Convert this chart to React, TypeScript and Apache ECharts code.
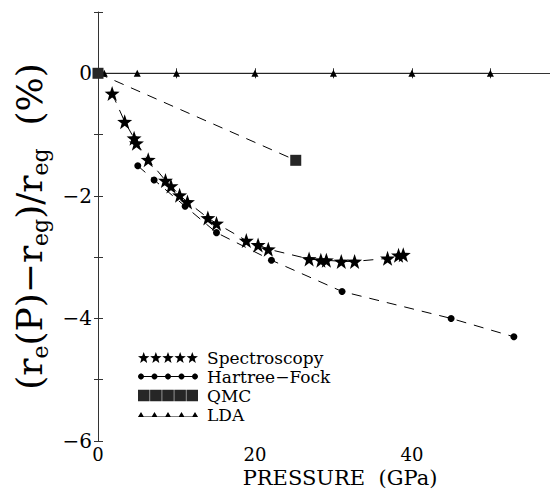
import React, { useEffect, useRef } from "react";
import * as echarts from "echarts";

// ---- data ----
const spectroscopyP = [1.8, 3.4, 4.6, 4.9, 6.4, 8.6, 9.3, 10.4, 11.4, 14.0, 15.1, 18.9, 20.4, 21.7, 26.9, 28.4, 29.1, 31.0, 32.7, 36.9, 38.3, 38.9];
const spectroscopyV = [-0.33, -0.79, -1.06, -1.14, -1.41, -1.75, -1.84, -1.99, -2.1, -2.36, -2.45, -2.73, -2.8, -2.87, -3.03, -3.05, -3.05, -3.07, -3.07, -3.02, -2.97, -2.96];
const hartreeFockP = [5.07, 7.15, 11.1, 15.1, 22.1, 31.1, 45.0, 53.0];
const hartreeFockV = [-1.51, -1.74, -2.17, -2.6, -3.05, -3.56, -4.0, -4.3];
const qmcP = [0, 25.2];
const qmcV = [0, -1.42];
const ldaP = [0, 0.8, 5, 10, 20, 30, 40, 50];
const ldaV = [0, 0, 0, 0, 0, 0, 0, 0];
const seriesNames = ["Spectroscopy", "Hartree\u2212Fock", "QMC", "LDA"];
const xLabelValues = [0, 20, 40];
const yLabelValues = [-6, -4, -2, 0];

const FONT = "DejaVu Serif";

function starPts(cx: number, cy: number, R: number, r: number): string {
  let s = "";
  for (let i = 0; i < 10; i++) {
    const rad = i % 2 === 0 ? R : r;
    const a = -Math.PI / 2 + (i * Math.PI) / 5;
    const x = cx + rad * Math.cos(a);
    const y = cy + rad * Math.sin(a);
    s += (i === 0 ? "M" : "L") + x.toFixed(2) + " " + y.toFixed(2) + " ";
  }
  return s + "Z ";
}
function polyCircle(cx: number, cy: number, r: number): string {
  let s = "";
  for (let i = 0; i < 14; i++) {
    const a = (i * 2 * Math.PI) / 14;
    s += (i === 0 ? "M" : "L") + (cx + r * Math.cos(a)).toFixed(2) + " " + (cy + r * Math.sin(a)).toFixed(2) + " ";
  }
  return s + "Z ";
}
const STAR = "path://" + starPts(0, 0, 10, 4);

function legendStars(): string {
  let s = "";
  const R = 6;
  const w = R * Math.sin((72 * Math.PI) / 180);
  for (let i = 0; i < 5; i++) s += starPts(w + i * ((60 - 2 * w) / 4), 6, R, 2.5);
  return "path://" + s;
}
function legendDots(): string {
  let s = "M3 2.6 L57 2.6 L57 3.4 L3 3.4 Z ";
  for (let i = 0; i < 5; i++) s += polyCircle(3 + i * 13.5, 3, 3);
  return "path://" + s;
}
function legendSquares(): string {
  let s = "";
  for (let i = 0; i < 5; i++) {
    const x = i * 12.1;
    s += `M${x} 0 L${x + 11.6} 0 L${x + 11.6} 11.6 L${x} 11.6 Z `;
  }
  return "path://" + s;
}
function legendTriangles(): string {
  let s = "M0 4.4 L60 4.4 L60 5 L0 5 Z ";
  for (let i = 0; i < 5; i++) {
    const cx = 3 + i * 13.5;
    s += `M${cx - 3} 5 L${cx} 0 L${cx + 3} 5 Z `;
  }
  return "path://" + s;
}

const zip = (a: number[], b: number[]) => a.map((v, i) => [v, b[i]]);

export default function App() {
  const ref = useRef<HTMLDivElement>(null);
  useEffect(() => {
    if (!ref.current) return;
    const chart = echarts.init(ref.current, undefined, { renderer: "svg" });
    const axisCol = "#333";
    const fmtY = (v: number) => (yLabelValues.indexOf(v) >= 0 ? (v < 0 ? "\u2212" + Math.abs(v) : String(v)) : "");
    const fmtX = (v: number) => (xLabelValues.indexOf(v) >= 0 ? String(v) : "");
    chart.setOption({
      animation: false,
      backgroundColor: "#fff",
      textStyle: { fontFamily: FONT, color: "#000" },
      grid: { left: 98, top: 12, right: 0, bottom: 50, containLabel: false, outerBoundsMode: "none" },
      xAxis: [
        {
          type: "value",
          min: 0,
          max: 57.6,
          interval: 10,
          position: "bottom",
          name: "PRESSURE  (GPa)",
          nameLocation: "middle",
          nameGap: 26,
          nameMoveOverlap: false,
          nameTextStyle: { fontSize: 21, lineHeight: 21, fontFamily: FONT, color: "#000", padding: [0, 0, 0, 32] },
          axisLine: { show: true, lineStyle: { color: axisCol, width: 1 } },
          axisTick: { show: true, inside: true, length: 5, lineStyle: { color: axisCol } },
          axisLabel: { formatter: fmtX, fontSize: 18, lineHeight: 18, color: "#000", margin: 4, fontFamily: FONT, showMaxLabel: false },
          splitLine: { show: false },
        },
        {
          type: "value",
          min: 0,
          max: 57.6,
          interval: 10,
          position: "top",
          axisLine: { show: true, lineStyle: { color: axisCol, width: 1 } },
          axisTick: { show: true, inside: true, length: 5, lineStyle: { color: axisCol } },
          axisLabel: { show: false },
          splitLine: { show: false },
        },
      ],
      yAxis: [
        {
          type: "value",
          min: -6,
          max: 1,
          interval: 1,
          position: "left",
          name: "(r{s|e}(P)\u2212r{s|eg})/r{s|eg}  (%)",
          nameLocation: "middle",
          nameRotate: 90,
          nameGap: 47,
          nameMoveOverlap: false,
          nameTextStyle: {
            fontSize: 36,
            lineHeight: 44,
            fontFamily: FONT,
            color: "#000",
            rich: {
              s: { fontSize: 22, lineHeight: 22, verticalAlign: "bottom", fontFamily: FONT, color: "#000" },
            },
          },
          axisLine: { show: true, lineStyle: { color: axisCol, width: 1 } },
          axisTick: { show: true, inside: true, length: 5, lineStyle: { color: axisCol } },
          axisLabel: { formatter: fmtY, fontSize: 20, color: "#000", margin: 6, fontFamily: FONT },
          splitLine: { show: false },
        },
        {
          type: "value",
          min: -6,
          max: 1,
          interval: 1,
          position: "right",
          axisLine: { show: false },
          axisTick: { show: true, inside: true, length: 4, lineStyle: { color: axisCol } },
          axisLabel: { show: false },
          splitLine: { show: false },
        },
      ],
      legend: {
        orient: "vertical",
        left: 138,
        top: 348,
        padding: 0,
        itemWidth: 60,
        itemHeight: 12,
        itemGap: 0,
        itemStyle: { borderWidth: 0 },
        textStyle: { fontSize: 17, lineHeight: 19, fontFamily: FONT, color: "#000", padding: [0, 0, 0, 4] },
        data: [
          { name: seriesNames[0], icon: legendStars() },
          { name: seriesNames[1], icon: legendDots() },
          { name: seriesNames[2], icon: legendSquares() },
          { name: seriesNames[3], icon: legendTriangles() },
        ],
      },
      series: [
        {
          name: seriesNames[3],
          type: "line",
          data: zip(ldaP, ldaV),
          symbol: "triangle",
          symbolSize: 7,
          itemStyle: { color: "#000", borderWidth: 0 },
          lineStyle: { color: "#222", width: 1 },
          z: 2,
        },
        {
          name: seriesNames[0],
          type: "line",
          data: zip(spectroscopyP, spectroscopyV),
          symbol: STAR,
          symbolSize: 15,
          itemStyle: { color: "#000", borderWidth: 0 },
          lineStyle: { color: "#000", width: 1, type: [10, 8] },
          z: 3,
        },
        {
          name: seriesNames[1],
          type: "line",
          data: zip(hartreeFockP, hartreeFockV),
          symbol: "circle",
          symbolSize: 7,
          itemStyle: { color: "#000", borderWidth: 0 },
          lineStyle: { color: "#000", width: 1, type: [10, 8] },
          z: 3,
        },
        {
          name: seriesNames[2],
          type: "line",
          data: zip(qmcP, qmcV),
          symbol: "rect",
          symbolSize: 11,
          itemStyle: { color: "#262626", borderWidth: 0 },
          lineStyle: { color: "#000", width: 1, type: [10, 8] },
          z: 4,
        },
      ],
    });
    return () => chart.dispose();
  }, []);
  return <div ref={ref} style={{ position: "absolute", left: 0, top: 0, width: 550, height: 491 }} />;
}
